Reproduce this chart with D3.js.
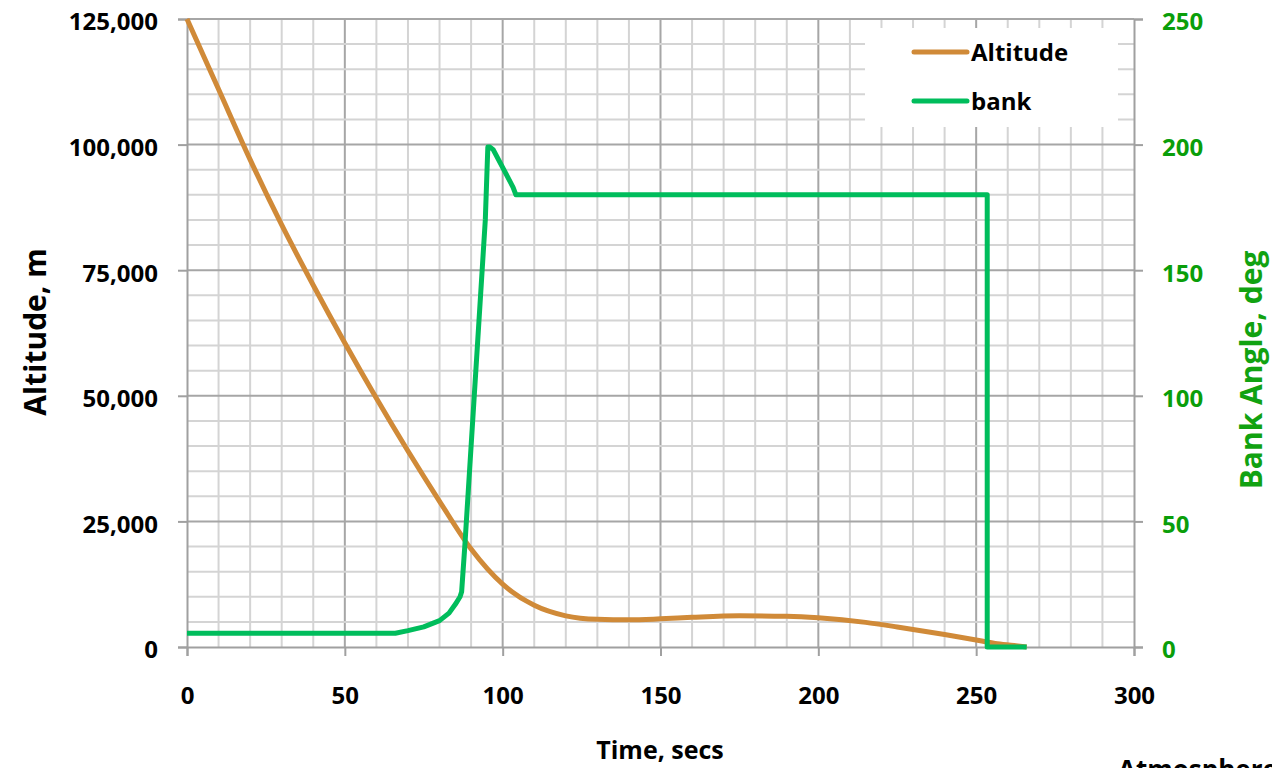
<!DOCTYPE html>
<html>
<head>
<meta charset="utf-8">
<script src="https://cdn.jsdelivr.net/npm/d3@7"></script>
<style>
  body { margin: 0; background: #fff; }
  svg text { font-family: "Open Sans", "Noto Sans", sans-serif; font-weight: bold; }
</style>
</head>
<body>
<svg width="1272" height="768"></svg>
<script>
var w = 1272, h = 768;

// time (secs) and altitude (m)
var altTime = [0, 10, 20, 30, 40, 50, 60, 70, 80, 90, 100, 110, 120, 130, 140, 150, 160, 175, 190, 200, 215, 225, 240, 250, 256, 262, 266];
var altitude = [125000, 111000, 97000, 84000, 72000, 60500, 49500, 39000, 29000, 19500, 12500, 8300, 6200, 5500, 5400, 5600, 5900, 6200, 6100, 5800, 4900, 4000, 2500, 1400, 700, 300, 0];

// time (secs) and bank angle (deg)
var bankTime = [0, 66, 70, 75, 80, 83, 85, 86.5, 87, 88, 92, 94.5, 95.3, 96, 97, 103.3, 104.2, 253.5, 253.5, 266];
var bank = [5.5, 5.5, 6.5, 8, 10.5, 13.5, 17, 20, 22, 40, 120, 170, 199, 199, 198, 183, 180, 180, 0, 0];

var xTicks = [0, 50, 100, 150, 200, 250, 300];
var altTicks = [0, 25000, 50000, 75000, 100000, 125000];
var bankTicks = [0, 50, 100, 150, 200, 250];

var x = d3.scaleLinear().domain([0, 300]).range([187, 1134]);
var yL = d3.scaleLinear().domain([0, 125000]).range([647, 19]);
var yR = d3.scaleLinear().domain([0, 250]).range([647, 19]);

var svg = d3.select("svg");

// grid
var grid = svg.append("g");
grid.selectAll("line.vx")
  .data(d3.range(10, 300, 10))
  .enter().append("line")
  .attr("x1", function(d){ return x(d); }).attr("x2", function(d){ return x(d); })
  .attr("y1", yL(125000)).attr("y2", yL(0))
  .attr("stroke", function(d){ return d % 50 == 0 ? "#a6a6a6" : "#d4d4d4"; })
  .attr("stroke-width", 2);
grid.selectAll("line.hy")
  .data(d3.range(5000, 125001, 5000))
  .enter().append("line")
  .attr("y1", function(d){ return yL(d); }).attr("y2", function(d){ return yL(d); })
  .attr("x1", x(0)).attr("x2", x(300))
  .attr("stroke", function(d){ return d % 25000 == 0 ? "#a6a6a6" : "#d4d4d4"; })
  .attr("stroke-width", 2);

// axes
var axisCol = "#a0a0a0";
var gL = svg.append("g").attr("transform", "translate(" + x(0) + ",0)")
  .call(d3.axisLeft(yL).tickValues(altTicks).tickSize(9).tickPadding(20).tickFormat(d3.format(",")));
var gB = svg.append("g").attr("transform", "translate(0," + yL(0) + ")")
  .call(d3.axisBottom(x).tickValues(xTicks).tickSize(9).tickPadding(30));
var gR = svg.append("g").attr("transform", "translate(" + x(300) + ",0)")
  .call(d3.axisRight(yR).tickValues(bankTicks).tickSize(9).tickPadding(19));

[gL, gB, gR].forEach(function(g){
  g.select(".domain").attr("stroke", axisCol).attr("stroke-width", 2);
  g.selectAll(".tick line").attr("stroke", axisCol).attr("stroke-width", 2);
  g.selectAll("text").attr("font-size", 24).attr("fill", "#000");
});
gL.selectAll("text").attr("dy", "0.45em");
gB.selectAll("text").attr("dy", "0.75em");
gR.selectAll("text").attr("fill", "#0a9e0a").attr("dy", "0.45em");

// lines
var altLine = d3.line()
  .x(function(d, i){ return x(altTime[i]); })
  .y(function(d){ return yL(d); })
  .curve(d3.curveMonotoneX);
var bankLine = d3.line()
  .x(function(d, i){ return x(bankTime[i]); })
  .y(function(d){ return yR(d); });

svg.append("path").datum(altitude).attr("d", altLine)
  .attr("fill", "none").attr("stroke", "#d08a38").attr("stroke-width", 5);
svg.append("path").datum(bank).attr("d", bankLine)
  .attr("fill", "none").attr("stroke", "#00bd5c").attr("stroke-width", 5)
  .attr("stroke-linejoin", "round");

// legend
var leg = svg.append("g");
leg.append("rect").attr("x", 865).attr("y", 28).attr("width", 253).attr("height", 99).attr("fill", "#fff");
var legItems = [["Altitude", "#d08a38", 52], ["bank", "#00bd5c", 101]];
legItems.forEach(function(it){
  leg.append("line").attr("x1", 914).attr("x2", 967).attr("y1", it[2]).attr("y2", it[2])
    .attr("stroke", it[1]).attr("stroke-width", 5).attr("stroke-linecap", "round");
  leg.append("text").attr("x", 971).attr("y", it[2] + 9).attr("font-size", 24).text(it[0]);
});

// titles
svg.append("text").attr("transform", "translate(46,332) rotate(-90)")
  .attr("text-anchor", "middle").attr("font-size", 30).text("Altitude, m");
svg.append("text").attr("x", 660).attr("y", 759)
  .attr("text-anchor", "middle").attr("font-size", 25).text("Time, secs");
svg.append("text").attr("transform", "translate(1262,370) rotate(-90)")
  .attr("text-anchor", "middle").attr("font-size", 30).attr("fill", "#11a211").text("Bank Angle, deg");
svg.append("text").attr("x", 1118).attr("y", 779).attr("font-size", 26).text("Atmosphere");
</script>
</body>
</html>
